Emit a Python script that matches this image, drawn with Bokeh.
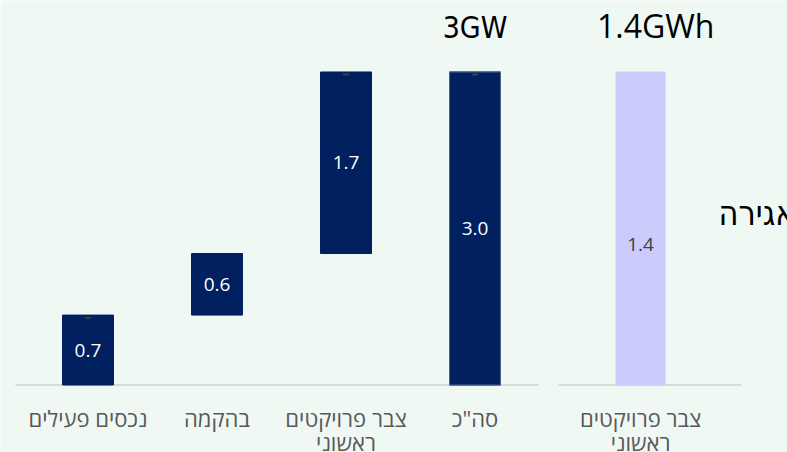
from bokeh.plotting import figure
from bokeh.models import ColumnDataSource, Range1d, Label
from bokeh.core.properties import value
from bokeh.embed import file_html
from bokeh.resources import INLINE

# ---- data ----
step_labels = ["נכסים פעילים", "בהקמה", "צבר פרויקטים\nראשוני"]
step_values = [0.67, 0.59, 1.74]
total_label = 'סה"כ'
storage_label = "צבר פרויקטים\nראשוני"
storage_value = [1.4]
title_power = "3GW"
title_storage = "1.4GWh"
storage_side = "אגירה"

BG = "#eff8f3"
NAVY = "#00205f"
LAV = "#ccccfc"
GREY_TXT = "#595959"

total_value = sum(step_values)
bottoms = []
acc = 0.0
for v in step_values:
    bottoms.append(acc)
    acc += v
tops = [b + v for b, v in zip(bottoms, step_values)]

xs = [0, 1, 2, 3]
bar_bottom = bottoms + [0.0]
bar_top = tops + [total_value]
vals = step_values + [total_value]
labels = step_labels + [total_label]

src = ColumnDataSource(dict(
    x=xs, bottom=bar_bottom, top=bar_top,
    mid=[(b + t) / 2 for b, t in zip(bar_bottom, bar_top)],
    txt=[f"{v:.1f}" for v in vals], cat=labels,
))

p = figure(width=787, height=452, output_backend="svg", toolbar_location=None,
           x_range=Range1d(-0.678, 5.422), y_range=Range1d(-0.647, 3.685),
           min_border=0)
p.extra_y_ranges = {"storage": Range1d(-0.302, 1.720)}
p.axis.visible = False
p.grid.visible = False
p.outline_line_color = None
p.background_fill_color = BG
p.border_fill_color = BG

# baselines
p.segment(x0=[-0.562], y0=[0], x1=[3.492], y1=[0], line_color="#d9d9d9", line_width=2)
p.segment(x0=[3.647], y0=[0], x1=[5.066], y1=[0], line_color="#d9d9d9", line_width=2)

# waterfall bars
p.vbar(x="x", bottom="bottom", top="top", width=0.395, source=src,
       fill_color=NAVY, line_color=NAVY)
# total bar with faint outline
p.vbar(x=[3], bottom=[0], top=[total_value], width=0.395, fill_color=NAVY,
       line_color="#4a6796", line_width=1)

# small marks at the top of some bars
p.scatter(x=[0, 2, 3], y=[tops[0] - 0.025, tops[2] - 0.025, total_value - 0.025],
          marker="dash", size=6, line_color="#3f3f3f", line_width=2)

p.text(x="x", y="mid", text="txt", source=src, text_color="white",
       text_font=value("Open Sans"), text_font_size="19px",
       text_align="center", text_baseline="middle")

p.text(x="x", y=-0.17, text="cat", source=src, text_color=GREY_TXT,
       text_font=value("Open Sans"), text_font_size="22px",
       text_align="center", text_baseline="top", text_line_height=0.82)

# storage bar (separate scale)
p.vbar(x=[4.283], bottom=[0], top=storage_value, width=0.38, fill_color=LAV,
       line_color=LAV, y_range_name="storage")
p.text(x=[4.283], y=[storage_value[0] / 2 - 0.07], text=[f"{storage_value[0]:.1f}"],
       y_range_name="storage", text_color="#404040",
       text_font=value("Open Sans"), text_font_size="19px",
       text_align="center", text_baseline="middle")
p.text(x=[4.283], y=[-0.17], text=[storage_label], text_color=GREY_TXT,
       text_font=value("Open Sans"), text_font_size="22px",
       text_align="center", text_baseline="top", text_line_height=0.82)

p.add_layout(Label(x=3, y=3.427, text=title_power, text_align="center",
                   text_baseline="middle", text_font="DejaVu Sans Condensed",
                   text_font_size="30px", text_color="black"))
p.add_layout(Label(x=4.40, y=3.446, text=title_storage, text_align="center",
                   text_baseline="middle", text_font="Open Sans",
                   text_font_size="32px", text_color="black"))
p.add_layout(Label(x=4.888, y=1.653, text=storage_side, text_align="left",
                   text_baseline="middle", text_font="DejaVu Sans Condensed",
                   text_font_size="34px", text_color="black"))

open("out.html", "w").write(file_html(p, INLINE))
